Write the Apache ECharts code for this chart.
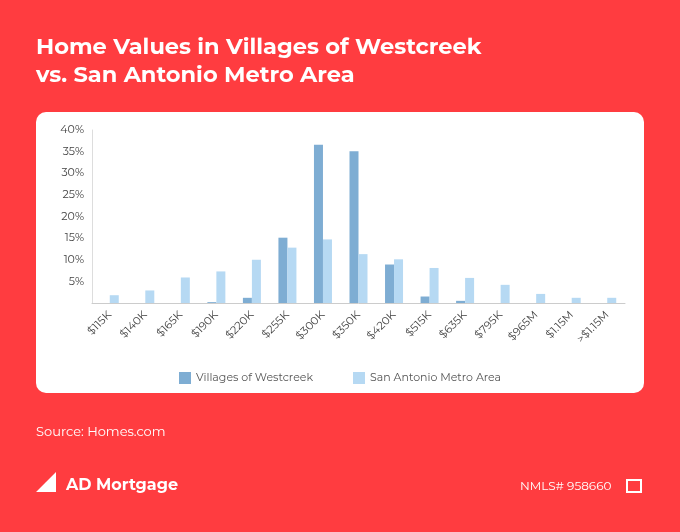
<!DOCTYPE html>
<html><head><meta charset="utf-8">
<script src="https://cdn.jsdelivr.net/npm/echarts@6/dist/echarts.min.js"></script>
<style>html,body{margin:0;padding:0;background:#ff3c40}#c{width:680px;height:532px}</style>
</head><body><div id="c"></div>
<script>
const categories=['$115K','$140K','$165K','$190K','$220K','$255K','$300K','$350K','$420K','$515K','$635K','$795K','$965M','$1.15M','>$1.15M'];
const westcreek=[0,0,0,0.2,1.2,15.1,36.6,35.1,8.9,1.5,0.5,0,0,0,0];
const sanAntonio=[1.8,2.9,5.9,7.3,10.0,12.8,14.7,11.3,10.1,8.1,5.8,4.2,2.1,1.2,1.2];
const yTicks=[5,10,15,20,25,30,35,40];
const ch=echarts.init(document.getElementById('c'));
const F='Montserrat, "Open Sans", "Noto Sans", sans-serif';
ch.setOption({
 backgroundColor:'#ff3c40',
 animation:false,
 graphic:[
  {type:'rect',shape:{x:36,y:112,width:608,height:281,r:10},style:{fill:'#fff'},z:-1},
  {type:'text',left:36,top:33,style:{text:'Home Values in Villages of Westcreek\nvs. San Antonio Metro Area',fill:'#fff',font:'bold 22.5px '+F,lineHeight:28}},
  {type:'text',left:36,top:426,style:{text:'Source: Homes.com',fill:'#fff',font:'13px '+F}},
  {type:'polygon',shape:{points:[[36,472],[46,482],[56,472],[56,492],[36,492],[46,482]]},style:{fill:'#fff'}},
  {type:'text',left:66,top:477,style:{text:'AD Mortgage',fill:'#fff',font:'bold 16px '+F}},
  {type:'text',left:520,top:480,style:{text:'NMLS# 958660',fill:'#fff',font:'12px '+F}},
  {type:'rect',shape:{x:627,y:480,width:14,height:12},style:{fill:'none',stroke:'#fff',lineWidth:2}}
 ],
 legend:{left:'center',top:367,itemWidth:12,itemHeight:12,itemGap:40,icon:'rect',textStyle:{color:'#555',fontSize:11,fontFamily:F}},
 grid:{left:92,right:55,top:130,bottom:229},
 xAxis:{type:'category',data:categories,axisTick:{show:false},axisLine:{lineStyle:{color:'#ccc'}},
   axisLabel:{rotate:45,color:'#444',fontSize:11,fontFamily:F,interval:0,margin:10}},
 yAxis:{type:'value',min:0,max:40,interval:5,splitLine:{show:false},axisLine:{show:true,lineStyle:{color:'#ddd'}},
   axisLabel:{color:'#444',fontSize:11,fontFamily:F,formatter:v=>yTicks.includes(v)?v+'%':''}},
 series:[
  {name:'Villages of Westcreek',type:'bar',data:westcreek,barWidth:9,barGap:'0%',itemStyle:{color:'#7eadd3'}},
  {name:'San Antonio Metro Area',type:'bar',data:sanAntonio,barWidth:9,itemStyle:{color:'#b6d9f3'}}
 ]
});
</script></body></html>
